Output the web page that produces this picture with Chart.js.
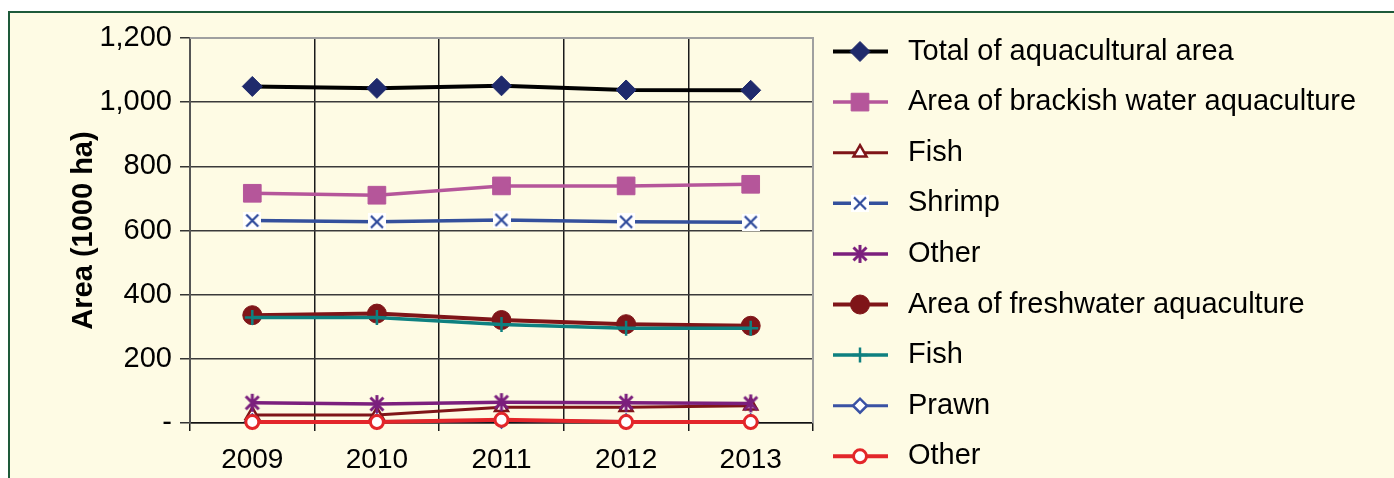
<!DOCTYPE html>
<html>
<head>
<meta charset="utf-8">
<script src="https://cdn.jsdelivr.net/npm/chart.js@4.4.1/dist/chart.umd.min.js"></script>
<style>
  html, body { margin: 0; padding: 0; background: #ffffff; width: 1394px; height: 478px; overflow: hidden; }
  #frame { position: absolute; left: 8px; top: 11px; width: 1400px; height: 480px;
           background: #fefbe4; border-left: 2px solid #1e5a3a; border-top: 2px solid #1e5a3a; }
  #wrap { position: absolute; left: 0; top: 0; width: 1394px; height: 478px; }
</style>
</head>
<body>
<div id="frame"></div>
<div id="wrap"><canvas id="chart"></canvas></div>
<script>
// Aquaculture area by year, thousand hectares
const years = ['2009', '2010', '2011', '2012', '2013'];
const seriesNames = [
  'Total of aquacultural area',
  'Area of brackish water aquaculture',
  'Fish',
  'Shrimp',
  'Other',
  'Area of freshwater aquaculture',
  'Fish',
  'Prawn',
  'Other'
];
const totalArea      = [1049, 1043, 1051, 1038, 1037];
const brackishArea   = [716, 710, 739, 739, 744];
const brackishFish   = [25, 25, 49, 49, 54];
const brackishShrimp = [631, 627, 633, 627, 626];
const brackishOther  = [63, 59, 65, 63, 61];
const freshArea      = [336, 341, 321, 308, 303];
const freshFish      = [329, 329, 307, 295, 295];
const freshPrawn     = [5, 5, 8, 5, 5];
const freshOther     = [3, 3, 10, 3, 3];
const yTicks = [0, 200, 400, 600, 800, 1000, 1200];

const FONT = "'Liberation Sans', Arial, sans-serif";

// Custom marker glyphs: an "x" on a white box, and an asterisk
function xBoxMarker(color) {
  const c = document.createElement('canvas');
  c.width = 18; c.height = 17;
  const g = c.getContext('2d');
  g.fillStyle = '#ffffff';
  g.fillRect(0, 0, 18, 17);
  g.strokeStyle = color; g.lineWidth = 2.2;
  g.beginPath();
  g.moveTo(3, 2.5); g.lineTo(15, 14.5);
  g.moveTo(15, 2.5); g.lineTo(3, 14.5);
  g.stroke();
  return c;
}
function asteriskMarker(color) {
  const c = document.createElement('canvas');
  c.width = 20; c.height = 20;
  const g = c.getContext('2d');
  g.strokeStyle = color; g.lineWidth = 3;
  g.beginPath();
  g.moveTo(3.5, 3.5); g.lineTo(16.5, 16.5);
  g.moveTo(16.5, 3.5); g.lineTo(3.5, 16.5);
  g.moveTo(10, 1); g.lineTo(10, 19);
  g.stroke();
  return c;
}

function series(label, data, line, lineWidth, style, radius, fill, border, borderWidth) {
  return {
    label, data,
    borderColor: line, borderWidth: lineWidth,
    pointStyle: style, pointRadius: radius, pointHoverRadius: radius,
    pointBackgroundColor: fill, pointBorderColor: border, pointBorderWidth: borderWidth,
    tension: 0, fill: false, clip: false
  };
}

const datasets = [
  series(seriesNames[0], totalArea, '#000000', 4, 'rectRot', 10, '#1f2a6c', '#1f2a6c', 1),
  series(seriesNames[1], brackishArea, '#b5569a', 3.5, 'rect', 12.5, '#b5569a', '#b5569a', 1),
  series(seriesNames[2], brackishFish, '#7f1518', 3, 'triangle', 7.5, '#ffffff', '#7f1518', 2.5),
  series(seriesNames[3], brackishShrimp, '#34509c', 3.5, xBoxMarker('#2e4a9c'), 9, '#ffffff', '#2e4a9c', 0),
  series(seriesNames[4], brackishOther, '#7b1f7d', 3.5, asteriskMarker('#7b1f7d'), 10, '#7b1f7d', '#7b1f7d', 0),
  series(seriesNames[5], freshArea, '#7f1518', 4, 'circle', 9.5, '#7f1518', '#7f1518', 1),
  series(seriesNames[6], freshFish, '#0e8080', 3.5, 'cross', 7.5, '#0e8080', '#0e8080', 2.5),
  series(seriesNames[7], freshPrawn, '#3a52a4', 3, 'rectRot', 7, '#ffffff', '#3a52a4', 2.5),
  series(seriesNames[8], freshOther, '#e3262a', 4, 'circle', 6.5, '#ffffff', '#e3262a', 3)
];
// later series are painted over earlier ones
datasets.forEach((d, i) => { d.order = datasets.length - i; });

// Legend drawn from the dataset styles: line segment, marker, label
const legendPlugin = {
  id: 'sideLegend',
  afterDraw(chart) {
    const ctx = chart.ctx;
    const x0 = 833, x1 = 888, xm = 860, xt = 908, y0 = 51.5, step = 50.6;
    chart.data.datasets.forEach((ds, i) => {
      const y = y0 + i * step;
      ctx.save();
      ctx.strokeStyle = ds.borderColor;
      ctx.lineWidth = ds.borderWidth;
      ctx.beginPath(); ctx.moveTo(x0, y); ctx.lineTo(x1, y); ctx.stroke();
      ctx.fillStyle = ds.pointBackgroundColor;
      ctx.strokeStyle = ds.pointBorderColor;
      ctx.lineWidth = ds.pointBorderWidth;
      Chart.helpers.drawPoint(ctx, {
        pointStyle: ds.pointStyle, radius: ds.pointRadius,
        rotation: 0, borderWidth: ds.pointBorderWidth
      }, xm, y);
      ctx.fillStyle = '#000000';
      ctx.font = '29px ' + FONT;
      ctx.textAlign = 'left';
      ctx.textBaseline = 'middle';
      ctx.fillText(ds.label, xt, y);
      ctx.restore();
    });
  }
};

// Light grey frame on the top and right of the plot area
const plotFrame = {
  id: 'plotFrame',
  beforeDatasetsDraw(chart) {
    const a = chart.chartArea, ctx = chart.ctx;
    ctx.save();
    ctx.strokeStyle = '#a0a0a0';
    ctx.lineWidth = 2;
    ctx.beginPath();
    ctx.moveTo(a.left, a.top); ctx.lineTo(a.right, a.top); ctx.lineTo(a.right, a.bottom);
    ctx.stroke();
    ctx.restore();
  }
};

new Chart(document.getElementById('chart'), {
  type: 'line',
  data: { labels: years, datasets },
  plugins: [plotFrame, legendPlugin],
  options: {
    responsive: true,
    maintainAspectRatio: false,
    animation: false,
    events: [],
    layout: { padding: { left: 0, top: 38, right: 581, bottom: 0 } },
    plugins: { legend: { display: false }, tooltip: { enabled: false } },
    scales: {
      x: {
        type: 'category',
        offset: true,
        afterFit(s) { s.height = 55; },
        grid: {
          offset: true,
          color: ctx => (ctx.index === years.length ? '#a0a0a0' : '#1a1a1a'),
          lineWidth: 1.5,
          drawTicks: true,
          tickLength: 8,
          tickColor: '#1a1a1a'
        },
        border: { display: true, color: '#111111', width: 1.5 },
        ticks: {
          color: '#000000',
          font: { family: FONT, size: 28 },
          padding: 12,
          maxRotation: 0
        }
      },
      y: {
        min: 0, max: 1200,
        afterFit(s) { s.width = 190; },
        afterBuildTicks(s) { s.ticks = yTicks.map(v => ({ value: v })); },
        grid: {
          color: ctx => (ctx.tick && ctx.tick.value === 1200 ? '#a0a0a0' : '#3a3a3a'),
          lineWidth: 1.5,
          drawTicks: true,
          tickLength: 10,
          tickColor: '#333333'
        },
        border: { display: true, color: '#555555', width: 2 },
        ticks: {
          color: '#000000',
          font: { family: FONT, size: 29 },
          padding: 8,
          callback: v => (v === 0 ? '-' : v.toLocaleString('en-US'))
        },
        title: {
          display: true,
          text: 'Area (1000 ha)',
          color: '#000000',
          font: { family: FONT, size: 29, weight: 'bold' },
          padding: { top: 67, bottom: 0 }
        }
      }
    }
  }
});
</script>
</body>
</html>
